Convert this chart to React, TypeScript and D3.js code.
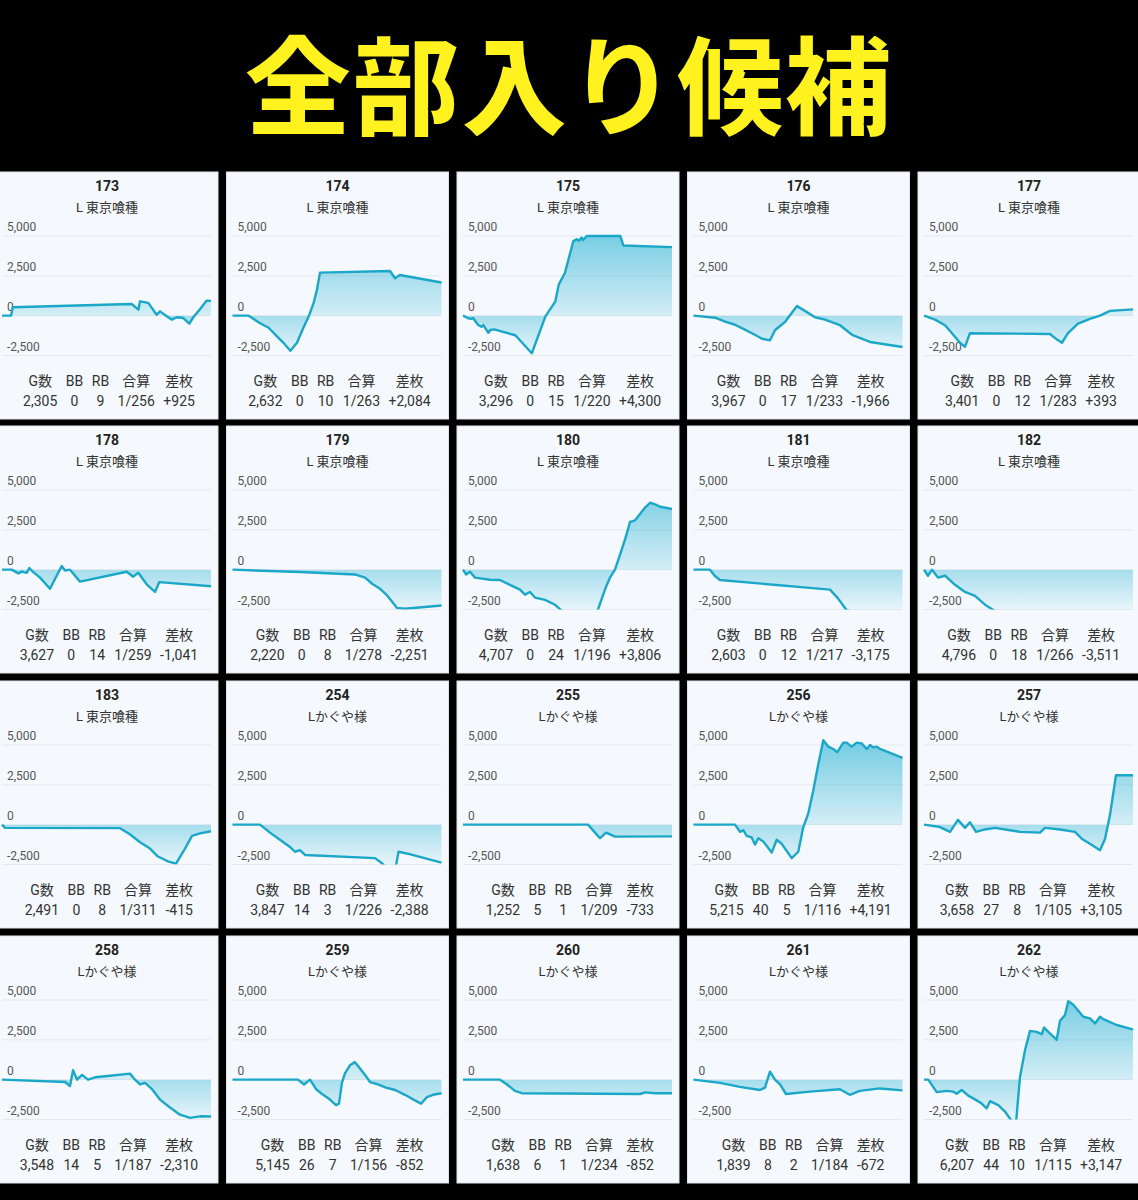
import React from 'react';
import * as d3 from 'd3';

// ---- data ----
const machines = ['173', '174', '175', '176', '177', '178', '179', '180', '181', '182', '183', '254', '255', '256', '257', '258', '259', '260', '261', '262'];
const models = [
  'L 東京喰種', 'L 東京喰種', 'L 東京喰種', 'L 東京喰種', 'L 東京喰種', 'L 東京喰種', 'L 東京喰種', 'L 東京喰種', 'L 東京喰種', 'L 東京喰種', 'L 東京喰種',
  'Lかぐや様', 'Lかぐや様', 'Lかぐや様', 'Lかぐや様', 'Lかぐや様', 'Lかぐや様', 'Lかぐや様', 'Lかぐや様', 'Lかぐや様',
];
const games = [2305, 2632, 3296, 3967, 3401, 3627, 2220, 4707, 2603, 4796, 2491, 3847, 1252, 5215, 3658, 3548, 5145, 1638, 1839, 6207];
const bb = [0, 0, 0, 0, 0, 0, 0, 0, 0, 0, 0, 14, 5, 40, 27, 14, 26, 6, 8, 44];
const rb = [9, 10, 15, 17, 12, 14, 8, 24, 12, 18, 8, 3, 1, 5, 8, 5, 7, 1, 2, 10];
const gassan = [256, 263, 220, 233, 283, 259, 278, 196, 217, 266, 311, 226, 209, 116, 105, 187, 156, 234, 184, 115];
const diff = [925, 2084, 4300, -1966, 393, -1041, -2251, 3806, -3175, -3511, -415, -2388, -733, 4191, 3105, -2310, -852, -852, -672, 3147];

const yTicks = [5000, 2500, 0, -2500];
const statHeaders = ['G数', 'BB', 'RB', '合算', '差枚'];
const titleText = '全部入り候補';

// [game, 差枚]
const s173 = [[0, 0], [100, 0], [118, 525], [1430, 735], [1505, 380], [1522, 900], [1613, 800], [1706, 60], [1743, 270], [1817, -40], [1872, -250], [1928, -100], [2000, -150], [2066, -500], [2110, -100], [2183, 400], [2258, 945], [2305, 925]];
const s174 = [[0, 0], [205, 0], [342, -460], [455, -760], [560, -1300], [645, -1720], [728, -2200], [812, -1700], [887, -820], [960, -40], [1023, 820], [1064, 1640], [1102, 2700], [1984, 2800], [2047, 2350], [2107, 2550], [2632, 2084]];
const s175 = [[0, 0], [82, -165], [132, -200], [158, -150], [240, -590], [290, -700], [320, -590], [400, -1070], [430, -900], [490, -860], [825, -1230], [1085, -2360], [1300, -40], [1457, 900], [1510, 1950], [1608, 2690], [1740, 4680], [1793, 4800], [1830, 4700], [1870, 4900], [1895, 4750], [1950, 5000], [2480, 5000], [2530, 4400], [3296, 4300]];
const s176 = [[0, 0], [410, -130], [600, -380], [787, -570], [975, -880], [1165, -1200], [1300, -1450], [1450, -1550], [1550, -900], [1737, -400], [1870, 200], [1965, 600], [2115, 300], [2305, -100], [2495, -250], [2780, -600], [3010, -1200], [3350, -1650], [3967, -1966]];
const s177 = [[0, 0], [179, -250], [342, -600], [456, -1100], [585, -1700], [667, -1950], [748, -1100], [2050, -1150], [2165, -1500], [2245, -1700], [2343, -1100], [2506, -500], [2700, -200], [2864, 0], [3027, 300], [3401, 393]];
const s178 = [[0, 0], [168, 0], [284, -230], [342, -120], [428, -200], [474, 100], [543, -150], [660, -500], [833, -1200], [1036, 230], [1093, -50], [1180, 0], [1354, -750], [2164, -130], [2278, -440], [2365, -190], [2511, -920], [2655, -1400], [2730, -780], [3627, -1041]];
const s179 = [[0, 0], [717, -150], [1300, -300], [1408, -500], [1487, -900], [1567, -1200], [1640, -1600], [1694, -2000], [1747, -2400], [1832, -2450], [2220, -2251]];
const s180 = [[0, 0], [68, -300], [157, -130], [270, -500], [608, -630], [833, -650], [1058, -950], [1284, -1250], [1396, -1570], [1510, -1400], [1621, -1750], [1847, -1900], [2072, -2200], [2230, -2600], [2522, -3000], [2860, -3100], [3040, -2500], [3197, -1250], [3310, -500], [3423, 0], [3537, 950], [3650, 1900], [3763, 3000], [3875, 3100], [3987, 3500], [4100, 3900], [4213, 4200], [4326, 4100], [4440, 3950], [4707, 3806]];
const s181 = [[0, 0], [205, 0], [267, -400], [330, -650], [1700, -1250], [1800, -1800], [1900, -2500], [2073, -2900], [2603, -3175]];
const s182 = [[0, 0], [92, -380], [184, 0], [321, -500], [482, -380], [711, -950], [941, -1400], [1170, -1650], [1400, -2200], [1630, -2600], [2432, -3000], [4796, -3511]];
const s183 = [[0, 0], [36, -200], [1407, -220], [1525, -600], [1645, -1100], [1764, -1500], [1859, -2000], [1979, -2300], [2074, -2450], [2181, -1500], [2265, -700], [2360, -550], [2491, -415]];
const s254 = [[0, 0], [506, 0], [690, -500], [874, -950], [1058, -1400], [1150, -1700], [1242, -1600], [1334, -1900], [2623, -2100], [2745, -2400], [2856, -2800], [3003, -2700], [3056, -1700], [3259, -1850], [3535, -2100], [3847, -2388]];
const s255 = [[0, 0], [749, 0], [791, -500], [821, -850], [857, -500], [911, -750], [1252, -733]];
const s256 = [[0, 0], [1036, 0], [1160, -450], [1242, -350], [1328, -700], [1451, -800], [1535, -1250], [1617, -850], [1741, -1050], [1951, -1750], [2076, -950], [2200, -1200], [2451, -2100], [2614, -1700], [2740, -150], [2864, 700], [2989, 2150], [3114, 3800], [3239, 5300], [3364, 4900], [3489, 4750], [3588, 4550], [3739, 5150], [3822, 5150], [3948, 4900], [4072, 5150], [4197, 5100], [4322, 4750], [4405, 5000], [4486, 4850], [4573, 4900], [4654, 4750], [5215, 4191]];
const s257 = [[0, 0], [280, -150], [455, -450], [595, 300], [718, -200], [805, 150], [910, -450], [1068, -300], [1243, -200], [1505, -350], [1680, -450], [2030, -500], [2118, -200], [2381, -300], [2643, -450], [2766, -900], [2905, -1200], [3080, -1600], [3168, -900], [3255, 600], [3360, 3100], [3658, 3105]];
const s258 = [[0, 0], [1069, -150], [1154, -400], [1206, 600], [1273, 0], [1358, 300], [1460, 0], [1579, 150], [1834, 250], [2173, 380], [2258, 0], [2343, -300], [2428, -200], [2547, -600], [2682, -1250], [2852, -1750], [3022, -2200], [3193, -2400], [3362, -2300], [3548, -2310]];
const s259 = [[0, 0], [1612, 0], [1760, -300], [1908, 0], [2057, -600], [2204, -900], [2401, -1250], [2548, -1600], [2622, -1500], [2694, -200], [2768, 400], [2890, 900], [3015, 1100], [3138, 700], [3262, 300], [3385, -150], [3581, -300], [3777, -500], [4003, -650], [4245, -950], [4492, -1300], [4641, -1500], [4785, -1100], [4934, -950], [5145, -852]];
const s260 = [[0, 0], [290, 0], [345, -300], [407, -700], [462, -850], [1387, -900], [1427, -800], [1505, -850], [1638, -852]];
const s261 = [[0, 0], [233, -200], [409, -450], [585, -650], [629, -500], [673, 500], [717, 0], [761, -300], [814, -900], [1025, -750], [1288, -600], [1375, -950], [1464, -700], [1640, -550], [1839, -672]];
const s262 = [[0, 0], [128, 0], [377, -780], [674, -700], [862, -750], [970, -880], [1119, -650], [1315, -1000], [1565, -1300], [1713, -1500], [1862, -1800], [1960, -1350], [2110, -1500], [2207, -1600], [2406, -2000], [2605, -2600], [2733, -2700], [2851, 170], [3000, 1850], [3148, 3060], [3347, 3000], [3496, 2850], [3564, 3270], [3941, 2500], [4039, 3700], [4188, 4050], [4285, 4930], [4434, 4700], [4732, 3950], [4930, 3850], [5078, 3530], [5227, 3950], [5326, 3800], [5723, 3430], [6170, 3170], [6207, 3147]];

const series = [s173, s174, s175, s176, s177, s178, s179, s180, s181, s182, s183, s254, s255, s256, s257, s258, s259, s260, s261, s262];

// ---- layout ----
const W = 1138;
const H = 1200;
const colX = [-4, 226.5, 457, 687.5, 918];
const rowY = [172, 426, 681, 936];
const PW = 222;
const PH = 247;

const LATIN = "Roboto, 'Noto Sans CJK JP', sans-serif";
const LINE = '#1ba7c7';

const fmtNum = (v: number) => (v < 0 ? '-' : '') + d3.format(',')(Math.abs(v));
const fmtDiff = (v: number) => (v > 0 ? '+' : v < 0 ? '-' : '') + d3.format(',')(Math.abs(v));

let ctx: CanvasRenderingContext2D | null = null;
function textWidth(s: string, font: string) {
  if (!ctx) ctx = document.createElement('canvas').getContext('2d');
  if (!ctx) return s.length * 8;
  ctx.font = font;
  return ctx.measureText(s).width;
}

const x0 = 6, x1 = 215;
const y = d3.scaleLinear().domain([-2500, 5000]).range([183.5, 64]);

function Panel({ i }: { i: number }) {
  const col = i % 5;
  const row = Math.floor(i / 5);
  const L = colX[col];
  const T = rowY[row];
  const x = d3.scaleLinear().domain([0, games[i]]).range([x0, x1]);
  const pts = series[i] as [number, number][];
  const line = d3.line<[number, number]>().x(d => x(d[0])).y(d => y(d[1]));
  const area = d3.area<[number, number]>().x(d => x(d[0])).y0(y(0)).y1(d => y(d[1]));

  const values = [fmtNum(games[i]), String(bb[i]), String(rb[i]), '1/' + gassan[i], fmtDiff(diff[i])];
  const font = `14px ${LATIN}`;
  const widths = statHeaders.map((h, k) => Math.max(textWidth(h, font), textWidth(values[k], font)));
  const pad = 8.5;
  const total = d3.sum(widths) + pad * (widths.length - 1);
  let cur = PW / 2 + 2 - total / 2;
  const centers = widths.map(w => {
    const c = cur + w / 2;
    cur += w + pad;
    return c;
  });

  return (
    <g transform={`translate(${L},${T})`}>
      <rect x={0} y={0} width={PW} height={PH} fill="#f5f9fd" stroke="#dfe4ea" strokeWidth={1} />
      <text x={PW / 2} y={14} textAnchor="middle" dominantBaseline="central" fontFamily={LATIN} fontWeight={700} fontSize={14} fill="#222">{machines[i]}</text>
      <text x={PW / 2} y={35} textAnchor="middle" dominantBaseline="central" fontFamily={LATIN} fontSize={13} fill="#333">{models[i]}</text>
      {yTicks.map(t => (
        <g key={t}>
          <line x1={x0} x2={x1} y1={y(t)} y2={y(t)} stroke="#e4e9ee" strokeWidth={1} />
          <text x={11} y={y(t) - 5} fontFamily={LATIN} fontSize={12} fill="#555">{fmtNum(t)}</text>
        </g>
      ))}
      <g clipPath="url(#plotClip)">
        <path d={area(pts) || ''} fill="url(#areaGrad)" />
        <path d={line(pts) || ''} fill="none" stroke={LINE} strokeWidth={2.4} strokeLinejoin="round" />
      </g>
      {statHeaders.map((h, k) => (
        <text key={h} x={centers[k]} y={209} textAnchor="middle" dominantBaseline="central" fontFamily={LATIN} fontSize={14} fill="#333">{h}</text>
      ))}
      {values.map((v, k) => (
        <text key={k} x={centers[k]} y={229} textAnchor="middle" dominantBaseline="central" fontFamily={LATIN} fontSize={14} fill="#333">{v}</text>
      ))}
    </g>
  );
}

export default function App() {
  const zeroOff = (y(5000) - y(0)) / (y(5000) - y(-2500));
  return (
    <>
      <style>{'body{margin:0;background:#000}'}</style>
      <svg width={W} height={H} style={{ display: 'block', background: '#000' }}>
        <defs>
          <linearGradient id="areaGrad" gradientUnits="userSpaceOnUse" x1={0} x2={0} y1={y(5000)} y2={y(-2500)}>
            <stop offset={0} stopColor="#25b1d2" stopOpacity={0.6} />
            <stop offset={zeroOff} stopColor="#25b1d2" stopOpacity={0.16} />
            <stop offset={zeroOff} stopColor="#25b1d2" stopOpacity={0.38} />
            <stop offset={1} stopColor="#25b1d2" stopOpacity={0.06} />
          </linearGradient>
          <clipPath id="plotClip">
            <rect x={x0 - 3} y={40} width={x1 - x0 + 6} height={y(-2500) - 40} />
          </clipPath>
        </defs>
        <rect x={0} y={0} width={W} height={H} fill="#000" />
        <text x={568} y={80} textAnchor="middle" dominantBaseline="central" fontFamily="'Noto Sans CJK JP', sans-serif" fontWeight={900} fontSize={108} fill="#fff21f" stroke="#000" strokeWidth={2}>{titleText}</text>
        {machines.map((m, i) => <Panel key={m} i={i} />)}
      </svg>
    </>
  );
}
